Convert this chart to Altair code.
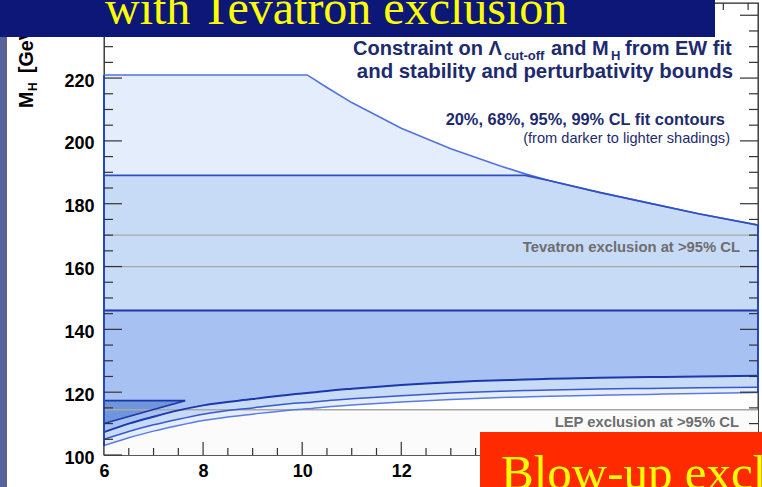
import altair as alt
import pandas as pd

# ---------------- data ----------------
x_grid   = [6, 6.5, 7, 7.5, 8, 9, 10, 10.1, 10.5, 11, 12, 13, 14, 14.5, 15, 16, 17, 18, 19.2]
upper_99 = [221, 221, 221, 221, 221, 221, 221, 221, 217, 212.2, 204, 197.5, 192, 189.5, 187.3, 183.6, 180.2, 176.8, 173.2]
upper_95 = [189, 189, 189, 189, 189, 189, 189, 189, 189, 189, 189, 189, 189, 189, 187.3, 183.6, 180.2, 176.8, 173.2]
upper_68 = [146, 146, 146, 146, 146, 146, 146, 146, 146, 146, 146, 146, 146, 146, 146, 146, 146, 146, 146]
lower_68 = [107.3, 110, 112.2, 114.2, 115.8, 117.8, 119.6, 119.7, 120.4, 121.1, 122.3, 123.2, 123.8, 124.0, 124.3, 124.6, 124.8, 125.0, 125.2]
lower_95 = [105, 107.5, 109.6, 111.4, 113, 115, 116.6, 116.7, 117.3, 117.9, 118.9, 119.7, 120.3, 120.5, 120.7, 121.0, 121.2, 121.4, 121.6]
lower_99 = [103, 105.5, 107.6, 109.4, 111, 113, 114.6, 114.7, 115.3, 115.9, 116.9, 117.7, 118.3, 118.5, 118.7, 119.0, 119.3, 119.6, 119.9]

tri_x   = [6, 7, 7.64]
tri_low = [110, 114.5, 117.3]
tri_up  = [117.3, 117.3, 117.3]

tevatron_lines = [160, 170]
lep_line = [114.4]

y_labels = [100, 120, 140, 160, 180, 200, 220]
x_labels = [6, 8, 10, 12]
y_major = [100, 120, 140, 160, 180, 200, 220, 240]
y_minor = [105, 110, 115, 125, 130, 135, 145, 150, 155, 165, 170, 175,
           185, 190, 195, 205, 210, 215, 225, 230, 235]
x_major = [6, 8, 10, 12, 14, 16, 18]
x_minor = [6.5, 7, 7.5, 8.5, 9, 9.5, 10.5, 11, 11.5, 12.5, 13, 13.5,
           14.5, 15, 15.5, 16.5, 17, 17.5, 18.5, 19]

edge_x = [6, 19.2]
edge_lo = [103, 119.9]
edge_hi = [221, 173.2]

# ---------------- layout ----------------
W, H = 654, 452
PL, PT = 104, 3
SANS = "Liberation Sans"
SERIF = "Liberation Serif"
NAVY = "#1d2b6e"

xs = alt.Scale(domain=[6, 19.2], nice=False, zero=False)
ys = alt.Scale(domain=[100, 243.9], nice=False, zero=False)

df = pd.DataFrame({"x": x_grid, "u99": upper_99, "u95": upper_95, "u68": upper_68,
                   "l68": lower_68, "l95": lower_95, "l99": lower_99})
tri = pd.DataFrame({"x": tri_x, "lo": tri_low, "hi": tri_up})
one = pd.DataFrame({"a": [0]})

X = alt.X("x:Q", scale=xs,
          axis=alt.Axis(values=x_labels, title=None, ticks=False, domain=False, grid=False,
                        labelFontSize=18, labelFontWeight="bold", labelFont=SANS,
                        labelColor="black", labelPadding=7, labelFlush=False))
Xn = alt.X("x:Q", scale=xs)


def px(v):
    return alt.value(v - PL)


def py(v):
    return alt.value(v - PT)


layers = []

# LEP excluded region (very faint)
lep_df = pd.DataFrame({"lo": [100], "hi": lep_line})
layers.append(alt.Chart(lep_df).mark_rect(color="#fbfbfb").encode(
    x=alt.value(0), x2=alt.value(W),
    y=alt.Y("lo:Q", scale=ys, axis=alt.Axis(values=y_labels, title=None, ticks=False, domain=False,
                                           grid=False, labelFontSize=18, labelFontWeight="bold",
                                           labelFont=SANS, labelColor="black", labelPadding=10,
                                           labelOffset=3)),
    y2="hi:Q"))

base = alt.Chart(df)
layers.append(base.mark_area(color="#e4edfb", opacity=1, interpolate="monotone").encode(
    x=X, y=alt.Y("l99:Q", scale=ys), y2="u99:Q"))
layers.append(base.mark_area(color="#c7daf6", opacity=1, interpolate="monotone").encode(
    x=Xn, y=alt.Y("l95:Q", scale=ys), y2="u95:Q"))
layers.append(base.mark_area(color="#a8c1f3", opacity=1, interpolate="monotone").encode(
    x=Xn, y=alt.Y("l68:Q", scale=ys), y2="u68:Q"))
layers.append(alt.Chart(tri).mark_area(color="#6f96dd", opacity=1).encode(
    x=Xn, y=alt.Y("lo:Q", scale=ys), y2="hi:Q"))

# gray reference lines
ref = pd.DataFrame({"v": tevatron_lines + lep_line})
layers.append(alt.Chart(ref).mark_rule(color="#a8a8a8", strokeWidth=1.3).encode(
    y=alt.Y("v:Q", scale=ys), x=alt.value(0), x2=alt.value(W)))

# contour boundaries
for col, colr, sw, interp in [("u99", "#5273de", 1.6, "linear"), ("l99", "#5b7be2", 1.5, "monotone"),
                              ("l95", "#3858cf", 1.5, "monotone"), ("u95", "#2f4fc8", 1.7, "linear"),
                              ("l68", "#1b39ad", 2.0, "monotone"), ("u68", "#1b39ad", 2.0, "linear")]:
    layers.append(base.mark_line(color=colr, strokeWidth=sw, interpolate=interp).encode(
        x=Xn, y=alt.Y(f"{col}:Q", scale=ys)))

tri_edges = pd.DataFrame({"x": tri_x + [6], "y": tri_low + [117.3], "o": [0, 1, 2, 3]})
layers.append(alt.Chart(tri_edges).mark_line(color="#1a37a8", strokeWidth=1.6).encode(
    x=Xn, y=alt.Y("y:Q", scale=ys), order="o:Q"))

edges = pd.DataFrame({"x": edge_x, "lo": edge_lo, "hi": edge_hi})
layers.append(alt.Chart(edges).mark_rule(color="#2646c4", strokeWidth=2).encode(
    x=Xn, y=alt.Y("lo:Q", scale=ys), y2="hi:Q"))

# ticks (ROOT style, inside, mirrored)
tick_col = "#333333"
ym = pd.DataFrame({"v": y_major})
yn = pd.DataFrame({"v": y_minor})
xm = pd.DataFrame({"x": x_major})
xn = pd.DataFrame({"x": x_minor})
for d, ln in [(ym, 18), (yn, 9)]:
    layers.append(alt.Chart(d).mark_rule(color=tick_col, strokeWidth=1.2).encode(
        y=alt.Y("v:Q", scale=ys), x=alt.value(0), x2=alt.value(ln)))
    layers.append(alt.Chart(d).mark_rule(color=tick_col, strokeWidth=1.2).encode(
        y=alt.Y("v:Q", scale=ys), x=alt.value(W - ln), x2=alt.value(W)))
for d, ln in [(xm, 13), (xn, 7)]:
    layers.append(alt.Chart(d).mark_rule(color=tick_col, strokeWidth=1.2).encode(
        x=Xn, y=alt.value(H - ln), y2=alt.value(H)))
    layers.append(alt.Chart(d).mark_rule(color=tick_col, strokeWidth=1.2).encode(
        x=Xn, y=alt.value(0), y2=alt.value(ln)))


def txt(s, x, y, size, color, weight="bold", align="left", font=SANS, angle=None):
    kw = dict(text=s, fontSize=size, fontWeight=weight, color=color, align=align,
              baseline="alphabetic", font=font)
    if angle is not None:
        kw["angle"] = angle
    return alt.Chart(one).mark_text(**kw).encode(x=px(x), y=py(y))


# annotation block (top right)
layers.append(txt("Constraint on \u039b", 353, 55, 20, NAVY))
layers.append(txt("cut-off", 504, 60, 13, NAVY))
layers.append(txt("and M", 551, 55, 20, NAVY))
layers.append(txt("H", 611, 60, 13, NAVY))
layers.append(txt("from EW fit", 625, 55, 20, NAVY))
layers.append(txt("and stability and perturbativity bounds", 733, 78, 20.4, NAVY, align="right"))
layers.append(txt("20%, 68%, 95%, 99% CL fit contours", 725, 125, 16.4, NAVY, align="right"))
layers.append(txt("(from darker to lighter shadings)", 730, 143, 14.6, NAVY, weight="normal", align="right"))
layers.append(txt("Tevatron exclusion at >95% CL", 740, 252, 14.8, "#6e6e6e", align="right"))
layers.append(txt("LEP exclusion at >95% CL", 739, 427, 14.8, "#6e6e6e", align="right"))

# y-axis title M_H [GeV]
layers.append(txt("M", 33, 108, 19.5, "black", angle=270))
layers.append(txt("H", 37, 91, 12, "black", angle=270))
layers.append(txt("[GeV]", 33, 73, 19.5, "black", angle=270))

# slide background strip on the left
layers.append(alt.Chart(one).mark_rect(color="#56649a").encode(
    x=px(0), x2=px(7), y=py(0), y2=py(487)))

# title banner
layers.append(alt.Chart(one).mark_rect(color="#0c1777").encode(
    x=px(0), x2=px(715), y=py(0), y2=py(37)))
layers.append(txt("with Tevatron exclusion", 105, 24, 48, "#ffff00", weight="normal", font=SERIF))

# red box
layers.append(alt.Chart(one).mark_rect(color="#ff2a00").encode(
    x=px(480), x2=px(762), y=py(432), y2=py(487)))
layers.append(txt("Blow-up exclusion", 501, 489, 49, "#ffff00", weight="normal", font=SERIF))

chart = alt.layer(*layers).properties(
    width=W, height=H,
    padding={"left": PL, "top": PT, "right": 762 - PL - W, "bottom": 487 - PT - H},
    autosize="none",
    background="white",
).configure_view(stroke="#222222", strokeWidth=1.3)

chart.save("out.html", embed_options={"renderer": "svg", "actions": False})
